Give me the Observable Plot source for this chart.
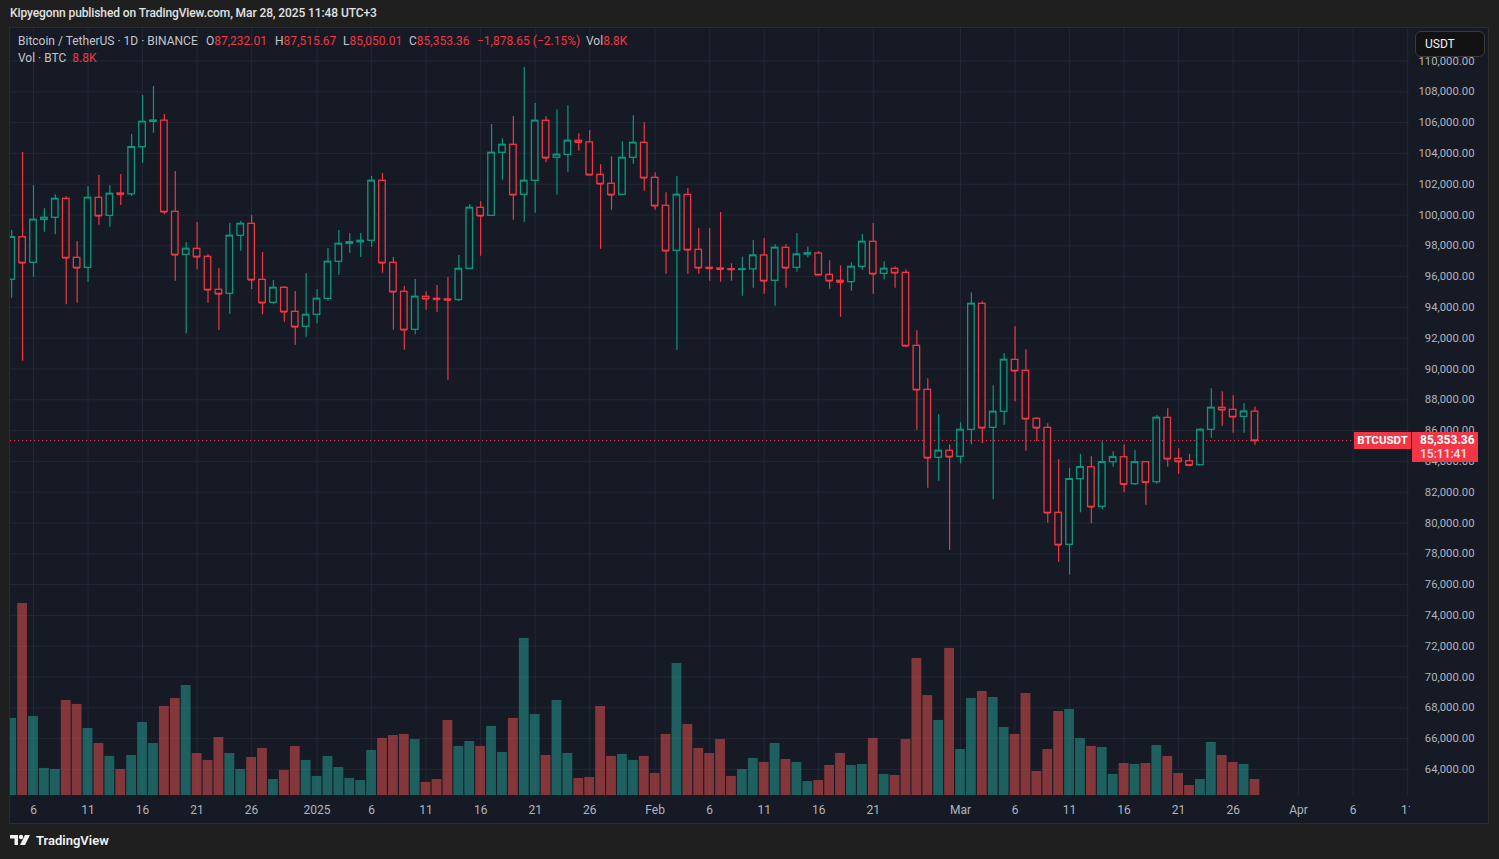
<!DOCTYPE html>
<html>
<head>
<meta charset="utf-8">
<script src="https://cdn.jsdelivr.net/npm/d3@7"></script>
<script src="https://cdn.jsdelivr.net/npm/@observablehq/plot@0.6"></script>
<style>
  html, body { margin:0; padding:0; }
  body { width:1499px; height:859px; overflow:hidden; background:#1f1f1f; position:relative;
         font-family: Roboto, "Noto Sans", "DejaVu Sans", sans-serif; }
  .abs { position:absolute; white-space:nowrap; }
  #topline { left:10px; top:6px; font-size:12px; color:#e2e2e2; font-weight:500; letter-spacing:-0.1px; }
  #panel { position:absolute; left:9px; top:27px; width:1480px; height:797px; box-sizing:border-box;
           border:1px solid #2c2c2c; background:#161a25; overflow:hidden; }
  #panel svg { position:absolute; left:0; top:0; }
  .hdr { font-size:12px; color:#c3c6ce; }
  .red { color:#f23645; }
  #usdt { left:1415px; top:31px; width:70px; height:26px; box-sizing:border-box; border:1px solid #3a3a3a;
          border-radius:6px; background:#121212; color:#f0f0f0; font-size:12px; line-height:24px; padding-left:9px; }
  #corner { left:1410px; top:795px; width:78px; height:27px; background:#161a25; }
  .plabel { background:#f23645; color:#ffffff; font-size:12px; font-weight:700; box-sizing:border-box; }
  #logo { left:10px; top:833px; font-size:13px; color:#f2f2f2; font-weight:600; display:flex; align-items:center; gap:4px; }
</style>
</head>
<body>
<div id="topline" class="abs">Kipyegonn published on TradingView.com, Mar 28, 2025 11:48 UTC+3</div>
<div id="panel"></div>
<div id="corner" class="abs"></div>

<div class="abs hdr" style="left:18px;top:34px;">Bitcoin / TetherUS · 1D · BINANCE</div>
<div class="abs hdr" style="left:206px;top:34px;">O<span class="red">87,232.01</span></div>
<div class="abs hdr" style="left:275px;top:34px;">H<span class="red">87,515.67</span></div>
<div class="abs hdr" style="left:343px;top:34px;">L<span class="red">85,050.01</span></div>
<div class="abs hdr" style="left:409px;top:34px;">C<span class="red">85,353.36</span></div>
<div class="abs hdr red" style="left:477px;top:34px;">−1,878.65 (−2.15%)</div>
<div class="abs hdr" style="left:586px;top:34px;">Vol<span class="red">8.8K</span></div>
<div class="abs hdr" style="left:18px;top:51px;">Vol · BTC&nbsp;&nbsp;<span class="red">8.8K</span></div>

<div id="usdt" class="abs">USDT</div>
<div id="lblSym" class="abs plabel" style="left:1354px;width:57px;height:17px;line-height:17px;text-align:center;font-size:11.5px;">BTCUSDT</div>
<div id="lblPrice" class="abs plabel" style="left:1412px;width:66px;height:30px;padding-left:8px;line-height:14px;padding-top:1px;">85,353.36<br><span style="font-weight:500;color:#ffe3e5;">15:11:41</span></div>

<div id="logo" class="abs">
  <svg width="22" height="13" viewBox="0 0 22 13"><path d="M0 1h8v10H4.5V4.5H0z" fill="#f2f2f2"/><circle cx="11" cy="3" r="2.2" fill="#f2f2f2"/><path d="M15 1h5l-5 10h-5z" fill="#f2f2f2"/></svg>
  <span>TradingView</span>
</div>

<script>
// ---- data (daily candles Dec 4, 2024 – Mar 28, 2025) ----
const firstDay = "2024-12-04";
const lastDay  = "2025-03-28";

const opens = [
  95791, 98558, 96895, 99688, 99820, 101050, 97220, 96570, 101115, 99947,
  101400, 101340, 104403, 106050, 106130, 100207, 97415, 97804, 97285, 95142,
  94882, 98649, 99427, 95790, 94298, 95272, 93713, 92739,
  93518, 94558, 96960, 98130, 98230, 98324, 102220, 96895, 95012, 92544,
  94688, 94558, 94520, 94480, 96500, 100466, 99947, 104040, 104558, 101311,
  102220, 106117, 103714, 103909, 104818, 104714, 102610, 102026, 101311, 103714, 104688,
  102415, 100597, 97675, 101311, 97740, 96570, 96530, 96480, 96440, 96470,
  97370, 95726, 97870, 96570, 97435, 97500, 96115, 95726, 95640, 96635,
  98260, 96180, 96505, 96245, 91505, 88648, 84232, 84687,
  84297, 86050, 94233, 86180, 87220, 90596, 89882, 86764, 86180, 80660,
  78582, 82843, 83622, 81050, 83947, 84270, 82518, 83947, 82648, 86830,
  84167, 84012, 83752, 86050, 87479, 87350, 86895, 87232.01
];
const highs = [
  99000, 104058, 101915, 100400, 101310, 101180, 98280, 101850, 102565, 101915,
  102630, 105227, 107760, 108344, 106526, 102824, 98213, 99511, 97434, 96524,
  99446, 99576, 99967, 97564, 95745, 95356, 95031, 96200,
  95161, 97825, 98993, 98800, 98800, 102500, 102694, 97240, 95356, 95810,
  95012, 95420, 95940, 97370, 100681, 100857, 105876, 104948, 106396, 109578,
  107240, 106376, 106831, 107091, 105273, 105468, 103260, 103779, 104753, 106441, 105987,
  102740, 101441, 102500, 101720, 99122, 99122, 100161, 96830, 97260, 98344,
  98474, 98065, 98065, 98800, 97910, 97630, 97025, 96700, 96895, 98734,
  99446, 96960, 96635, 96440, 92480, 89362, 87025, 85077,
  86505, 94947, 94363, 88908, 90986, 92740, 91246, 86830, 86440, 84102,
  83557, 84466, 84297, 85272, 84622, 85077, 84687, 83960, 86979, 87414,
  84817, 84466, 86115, 88713, 88518, 88258, 87740, 87515.67
];
const lows = [
  94600, 90505, 95960, 98880, 98710, 94170, 94270, 95640, 99340, 99207,
  100616, 101200, 103360, 105310, 100010, 95700, 92284, 96440, 94272, 92500,
  93557, 97650, 95161, 93518, 94168, 93038, 91544, 92065,
  92934, 94403, 96090, 97520, 97260, 97910, 96220, 92520, 91220, 92220,
  93820, 93690, 89270, 94364, 96500, 97325, 99947, 102260, 99662, 99532,
  100116, 103390, 101285, 102779, 104143, 102545, 97780, 100310, 101311, 103300, 101545,
  100310, 96155, 91220, 96155, 96155, 95700, 95636, 95700, 94727, 95246,
  94857, 94077, 95246, 96285, 97220, 96050, 95181, 93362, 95051, 96415,
  94857, 95790, 95246, 91375, 86024, 82258, 82713, 78230,
  83842, 85077, 85142, 81504, 86349, 87868, 84660, 85272, 79985, 77452,
  76608, 80660, 79946, 80855, 83622, 81974, 82428, 81155, 82518, 83622,
  83168, 83647, 83752, 85500, 86284, 85830, 85830, 85050.01
];
const closes = [
  98558, 96895, 99688, 99820, 101050, 97220, 96570, 101115, 99947, 101376,
  101340, 104403, 106052, 106130, 100207, 97415, 97804, 97285, 95142, 94882,
  98649, 99427, 95790, 94298, 95272, 93713, 92739, 93518,
  94558, 96960, 98130, 98230, 98324, 102220, 96895, 95012, 92544, 94688,
  94558, 94520, 94480, 96500, 100466, 99947, 104040, 104558, 101311, 102220,
  106117, 103714, 103909, 104818, 104714, 102610, 102026, 101311, 103714, 104688, 102415,
  100597, 97675, 101311, 97740, 96570, 96530, 96480, 96460, 96470, 97370,
  95726, 97870, 96570, 97435, 97510, 96115, 95726, 95640, 96635, 98260,
  96180, 96505, 96245, 91505, 88648, 84232, 84687, 84297,
  86050, 94233, 86180, 87220, 90596, 89882, 86764, 86180, 80660, 78582,
  82843, 83622, 81050, 83947, 84270, 82518, 83947, 82648, 86830, 84167,
  83990, 83752, 86050, 87479, 87350, 86895, 87232, 85353.36
];
// volume, thousand BTC
const volumes = [
  42.4, 105.6, 43.5, 14.9, 14.3, 52.3, 50.1, 36.9, 28.6, 21.5,
  14.3, 22.0, 40.2, 28.6, 49.0, 53.4, 60.5, 23.1, 19.3, 31.9,
  23.1, 14.3, 20.9, 25.9, 8.8, 13.8, 27.0, 19.3,
  10.5, 21.5, 15.4, 9.4, 8.3, 24.8, 31.4, 33.0, 33.6, 30.8,
  7.2, 8.8, 41.3, 27.0, 29.7, 27.0, 38.0, 23.7, 42.4, 86.4,
  44.6, 22.0, 52.3, 23.1, 9.4, 9.9, 49.0, 21.5, 22.6, 19.3, 21.5,
  12.1, 33.6, 72.6, 39.1, 25.9, 23.1, 30.8, 10.5, 14.3, 20.4,
  18.2, 28.6, 19.8, 18.2, 7.7, 8.3, 16.5, 23.1, 16.5, 17.1,
  31.4, 11.6, 11.0, 30.8, 75.4, 55.0, 41.3, 80.9,
  25.3, 53.4, 57.2, 53.9, 37.4, 33.6, 56.1, 13.2, 25.3, 46.2,
  47.3, 31.4, 27.0, 26.4, 11.6, 17.6, 17.1, 17.6, 27.5, 21.5,
  12.1, 5.5, 8.8, 29.2, 22.0, 18.2, 17.1, 8.8
];
const xTickDates = [
  "2024-12-06","2024-12-11","2024-12-16","2024-12-21","2024-12-26",
  "2025-01-01","2025-01-06","2025-01-11","2025-01-16","2025-01-21","2025-01-26",
  "2025-02-01","2025-02-06","2025-02-11","2025-02-16","2025-02-21",
  "2025-03-01","2025-03-06","2025-03-11","2025-03-16","2025-03-21","2025-03-26",
  "2025-04-01","2025-04-06","2025-04-11"
];
const yTicks = [64000,66000,68000,70000,72000,74000,76000,78000,80000,82000,84000,86000,
  88000,90000,92000,94000,96000,98000,100000,102000,104000,106000,108000,110000];
const lastClose = closes[closes.length - 1];

// ---- build ----
const DAY = 864e5;
const parse = d3.utcParse("%Y-%m-%d");
const dates = d3.utcDay.range(parse(firstDay), d3.utcDay.offset(parse(lastDay), 1));
const candles = dates.map((date, i) => ({
  date, open: opens[i], high: highs[i], low: lows[i], close: closes[i], volume: volumes[i],
  up: closes[i] >= opens[i]
}));
const xTicks = xTickDates.map(parse);

const GREEN = "#089981", RED = "#f23645", BG = "#161a25", GRID = "#232734";
const VGREEN = "rgba(38,166,154,0.5)", VRED = "rgba(239,83,80,0.5)";

const ref = parse("2024-12-06");
const xDomain = [new Date(+ref - 2.109 * DAY), new Date(+ref + 126.17 * DAY)];
const W = 1478, H = 795;
const common = { width: W, height: H, marginLeft: 0, marginRight: 79, marginTop: 0, marginBottom: 28 };
const monthFmt = d3.utcFormat("%b");
const tickFmt = d => d.getUTCDate() !== 1 ? String(d.getUTCDate()) : (d.getUTCMonth() === 0 ? String(d.getUTCFullYear()) : monthFmt(d));
const shift = f => d => new Date(+d.date + f * DAY);

const priceChart = Plot.plot({
  ...common,
  style: { background: BG, color: "#b2b5be", fontFamily: "Roboto, 'Noto Sans', sans-serif", fontSize: "12px", overflow: "visible" },
  x: { type: "utc", domain: xDomain },
  y: { domain: [64000, 108000], range: [740.9, 63.3] },
  color: { type: "identity" },
  marks: [
    Plot.gridX(xTicks, { stroke: GRID, strokeOpacity: 1, strokeWidth: 1 }),
    Plot.gridY(yTicks, { stroke: GRID, strokeOpacity: 1, strokeWidth: 1 }),
    Plot.axisX(xTicks, { tickSize: 0, tickPadding: 10, tickFormat: tickFmt, fontSize: 12, fill: "#b2b5be", label: null }),
    Plot.axisY(yTicks, { anchor: "right", tickSize: 0, tickPadding: 0, textAnchor: "end", dx: 65,
      tickFormat: d3.format(",.2f"), fontSize: 11.3, fill: "#b2b5be", label: null }),
    Plot.ruleY([lastClose], { stroke: RED, strokeWidth: 1, strokeDasharray: "1.2,2.8" }),
    Plot.ruleX(candles, { x: "date", y1: "low", y2: "high", stroke: d => d.up ? GREEN : RED, strokeWidth: 1.2, clip: true }),
    Plot.rect(candles, { x1: shift(-0.3), x2: shift(0.3), y1: "open", y2: "close",
      fill: BG, stroke: d => d.up ? GREEN : RED, strokeWidth: 1.3, clip: true }),
    Plot.ruleY(candles, { y: "close", x1: shift(-0.3), x2: shift(0.3), stroke: d => d.up ? GREEN : RED, strokeWidth: 1.6, clip: true })
  ]
});

const volChart = Plot.plot({
  ...common,
  style: { background: "transparent", overflow: "visible" },
  x: { type: "utc", domain: xDomain, axis: null },
  y: { domain: [0, 105.6], range: [767, 575], axis: null },
  color: { type: "identity" },
  marks: [
    Plot.rectY(candles, { x1: shift(-0.45), x2: shift(0.45), y: "volume", fill: d => d.up ? VGREEN : VRED, clip: true })
  ]
});

const panel = document.getElementById("panel");
panel.appendChild(priceChart);
panel.appendChild(volChart);

// position the last-price labels with the chart's own y scale
const yPage = 28 + priceChart.scale("y").apply(lastClose);
document.getElementById("lblSym").style.top = (yPage - 8) + "px";
document.getElementById("lblPrice").style.top = (yPage - 8) + "px";
</script>
</body>
</html>
